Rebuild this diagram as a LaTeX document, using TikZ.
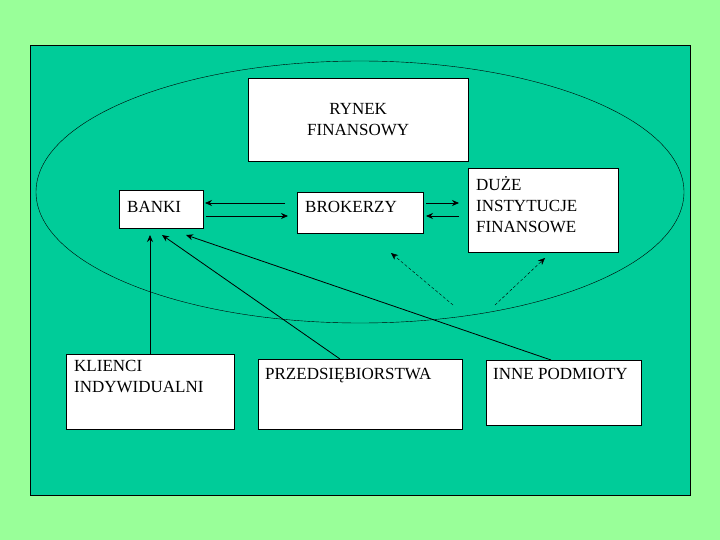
\documentclass[tikz,border=0pt]{standalone}
\usepackage{fontspec}
\setmainfont{Liberation Serif}
\usetikzlibrary{arrows.meta}
\definecolor{lightgreen}{RGB}{153,255,153}
\definecolor{seagreen}{RGB}{0,204,153}
\tikzset{box/.style={rectangle, draw, fill=white, anchor=north west, inner sep=0pt},
	txt/.style={anchor=north west, align=left, inner sep=0pt, font=\fontsize{17}{21}\selectfont},
	line/.style={draw, thick, -{Stealth[length=7pt,width=6pt]}},
	dline/.style={draw, densely dashed, -{Stealth[length=7pt,width=6pt]}}}
\begin{document}
\begin{tikzpicture}[x=1pt, y=-1pt]
	% Background
	\fill[lightgreen] (0,0) rectangle (720,540);
	\draw[fill=seagreen] (30,45) rectangle (690,495);
	\draw (360,192) ellipse [x radius=324, y radius=131];
	% Place nodes
	\node [box, minimum width=220, minimum height=83] (rynek) at (248,78) {};
	\node [font=\fontsize{17}{21}\selectfont, align=center] at (rynek.center) {RYNEK\\FINANSOWY};
	\node [box, minimum width=84, minimum height=38] (banki) at (119,190) {};
	\node [txt] at (127,201) {BANKI};
	\node [box, minimum width=126, minimum height=41] (brokerzy) at (297,192) {};
	\node [txt] at (305,201) {BROKERZY};
	\node [box, minimum width=150, minimum height=84] (duze) at (468,168) {};
	\node [txt] at (476,176) {DUŻE\\INSTYTUCJE\\FINANSOWE};
	\node [box, minimum width=168, minimum height=75] (klienci) at (66,354) {};
	\node [txt] at (74,360) {KLIENCI\\INDYWIDUALNI};
	\node [box, minimum width=204, minimum height=70] (firmy) at (258,359) {};
	\node [txt] at (265,368) {PRZEDSIĘBIORSTWA};
	\node [box, minimum width=155, minimum height=65] (inne) at (486,360) {};
	\node [txt] at (493,368) {INNE PODMIOTY};
	\coordinate (d1) at (453,305);
	\coordinate (d2) at (495,305);
	% Draw edges
	\path [line] (285,203) -- (205,203);
	\path [line] (206,216) -- (288,216);
	\path [line] (426,203) -- (459,203);
	\path [line] (459,216) -- (426,216);
	\path [line] (klienci.north -| 150,0) -- (150,235);
	\path [line] (firmy.north -| 340,0) -- (162,235);
	\path [line] (inne.north -| 551,0) -- (186,235);
	\path [dline] (d1) -- (391,253);
	\path [dline] (d2) -- (545,258);
\end{tikzpicture}
\end{document}
